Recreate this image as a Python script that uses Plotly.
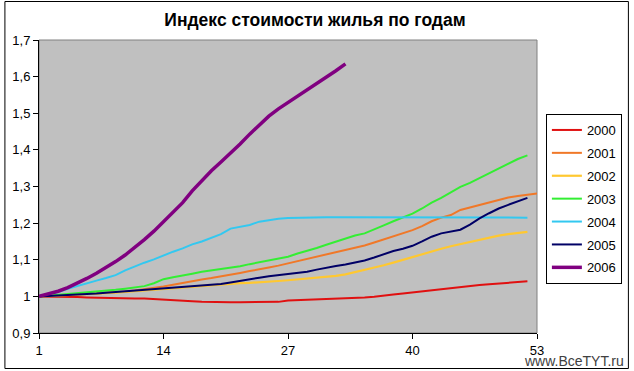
import plotly.graph_objects as go

title = "Индекс стоимости жилья по годам"
years = ["2000", "2001", "2002", "2003", "2004", "2005", "2006"]
x_ticks = [1, 14, 27, 40, 53]
y_ticks = [0.9, 1.0, 1.1, 1.2, 1.3, 1.4, 1.5, 1.6, 1.7]
y_tick_labels = ["0,9", "1", "1,1", "1,2", "1,3", "1,4", "1,5", "1,6", "1,7"]

v2000 = [1.000, 1.000, 0.999, 0.999, 0.998, 0.997, 0.996, 0.996, 0.995, 0.995,
         0.994, 0.994, 0.993, 0.992, 0.991, 0.990, 0.987, 0.985, 0.984, 0.984,
         0.984, 0.984, 0.984, 0.984, 0.984, 0.985, 0.989, 0.990, 0.991, 0.991,
         0.992, 0.993, 0.994, 0.995, 0.997, 0.999, 1.001, 1.005, 1.008, 1.011,
         1.014, 1.018, 1.020, 1.022, 1.025, 1.028, 1.031, 1.033, 1.035, 1.037,
         1.039, 1.041]
v2001 = [1.000, 1.001, 1.002, 1.003, 1.005, 1.006, 1.008, 1.010, 1.011, 1.013,
         1.016, 1.019, 1.022, 1.027, 1.032, 1.037, 1.042, 1.046, 1.050, 1.054,
         1.060, 1.064, 1.069, 1.075, 1.079, 1.084, 1.090, 1.098, 1.104, 1.110,
         1.116, 1.121, 1.126, 1.132, 1.139, 1.147, 1.155, 1.164, 1.172, 1.181,
         1.192, 1.205, 1.215, 1.222, 1.236, 1.243, 1.250, 1.258, 1.264, 1.270,
         1.274, 1.278, 1.281]
v2002 = [1.000, 1.001, 1.002, 1.003, 1.004, 1.005, 1.006, 1.008, 1.010, 1.012,
         1.014, 1.017, 1.020, 1.022, 1.024, 1.026, 1.028, 1.030, 1.031, 1.033,
         1.034, 1.036, 1.037, 1.038, 1.040, 1.042, 1.044, 1.046, 1.048, 1.051,
         1.053, 1.056, 1.060, 1.066, 1.071, 1.079, 1.085, 1.092, 1.100, 1.108,
         1.116, 1.123, 1.130, 1.137, 1.143, 1.149, 1.155, 1.161, 1.166, 1.170,
         1.174, 1.176]
v2003 = [1.000, 1.002, 1.004, 1.006, 1.008, 1.011, 1.014, 1.016, 1.018, 1.021,
         1.024, 1.028, 1.036, 1.047, 1.052, 1.056, 1.062, 1.067, 1.071, 1.074,
         1.077, 1.082, 1.088, 1.093, 1.097, 1.102, 1.108, 1.117, 1.124, 1.132,
         1.141, 1.150, 1.158, 1.166, 1.172, 1.182, 1.194, 1.205, 1.215, 1.226,
         1.240, 1.256, 1.269, 1.283, 1.299, 1.310, 1.323, 1.336, 1.350, 1.364,
         1.375, 1.385]
v2004 = [1.000, 1.005, 1.012, 1.021, 1.029, 1.036, 1.043, 1.050, 1.058, 1.071,
         1.082, 1.092, 1.101, 1.112, 1.122, 1.131, 1.142, 1.150, 1.160, 1.170,
         1.185, 1.190, 1.195, 1.204, 1.209, 1.212, 1.214, 1.215, 1.216, 1.216,
         1.216, 1.216, 1.216, 1.216, 1.216, 1.217, 1.217, 1.217, 1.217, 1.217,
         1.216, 1.216, 1.216, 1.216, 1.216, 1.215, 1.215, 1.215, 1.215, 1.215,
         1.215, 1.215]
v2005 = [1.000, 1.001, 1.002, 1.003, 1.004, 1.006, 1.008, 1.010, 1.012, 1.014,
         1.017, 1.020, 1.022, 1.024, 1.025, 1.027, 1.029, 1.031, 1.033, 1.034,
         1.038, 1.043, 1.047, 1.051, 1.055, 1.058, 1.060, 1.063, 1.067, 1.073,
         1.079, 1.083, 1.087, 1.092, 1.098, 1.106, 1.115, 1.124, 1.130, 1.138,
         1.150, 1.163, 1.172, 1.178, 1.182, 1.196, 1.213, 1.227, 1.240, 1.250,
         1.259, 1.269]
v2006 = [1.000, 1.006, 1.014, 1.024, 1.036, 1.049, 1.063, 1.078, 1.095, 1.113,
         1.133, 1.155, 1.178, 1.203, 1.228, 1.256, 1.288, 1.316, 1.343, 1.367,
         1.391, 1.416, 1.443, 1.468, 1.492, 1.512, 1.529, 1.546, 1.563, 1.581,
         1.598, 1.616, 1.635]

series = [v2000, v2001, v2002, v2003, v2004, v2005, v2006]
colors = ["#E01010", "#F07828", "#FFC830", "#33EE33", "#33C8F0", "#000066", "#800080"]
widths = [2, 2, 2.2, 2, 2, 2, 3.5]

FONT = "Liberation Sans, Arial, sans-serif"

fig = go.Figure()
for name, vals, c, w in zip(years, series, colors, widths):
    fig.add_trace(go.Scatter(
        x=list(range(1, len(vals) + 1)), y=vals, mode="lines", name=name,
        legendgroup=name, line=dict(color=c, width=w)))

L, R, T, B = 36, 94, 40, 38
W, H = 634, 371
pw, ph = W - L - R, H - T - B

def px(xp):
    return (xp - L) / pw

def py(yp):
    return (H - B - yp) / ph

fig.update_layout(
    width=W, height=H,
    margin=dict(l=L, r=R, t=T, b=B),
    paper_bgcolor="white", plot_bgcolor="#C0C0C0",
    font=dict(family=FONT, size=13, color="black"),
    title=dict(text="<b>" + title + "</b>", x=315 / W, xref="container", xanchor="center",
               y=1 - 20 / H, yref="container", yanchor="middle",
               font=dict(family=FONT, size=17.5, color="black")),
    showlegend=True,
    legend=dict(x=px(549), y=py(114), xanchor="left", yanchor="top",
                bgcolor="white", bordercolor="black", borderwidth=1,
                font=dict(family=FONT, size=13, color="black"),
                tracegroupgap=3, itemwidth=30),
    xaxis=dict(range=[1, 53], tickvals=x_ticks, ticktext=[str(t) for t in x_ticks],
               showgrid=False, zeroline=False, showline=True, linecolor="black",
               linewidth=1, ticks="outside", ticklen=5, tickcolor="black",
               tickfont=dict(family=FONT, size=13)),
    yaxis=dict(range=[0.9, 1.7], tickvals=y_ticks, ticktext=y_tick_labels,
               showgrid=False, zeroline=False, showline=True, linecolor="black",
               linewidth=1, ticks="outside", ticklen=5, tickcolor="black",
               tickfont=dict(family=FONT, size=13)),
    shapes=[
        dict(type="rect", xref="paper", yref="paper", x0=0, x1=1, y0=0, y1=1,
             line=dict(color="#808080", width=1), layer="below"),
        dict(type="rect", xref="paper", yref="paper", x0=px(1.5), x1=px(632.5),
             y0=py(368.5), y1=py(1.5), line=dict(color="black", width=1)),
    ],
    annotations=[
        dict(text="www.BceTYT.ru", xref="paper", yref="paper", x=px(630), y=py(371),
             xanchor="right", yanchor="bottom", showarrow=False,
             font=dict(family=FONT, size=14, color="#404040")),
    ],
)

fig.write_html("out.html")
